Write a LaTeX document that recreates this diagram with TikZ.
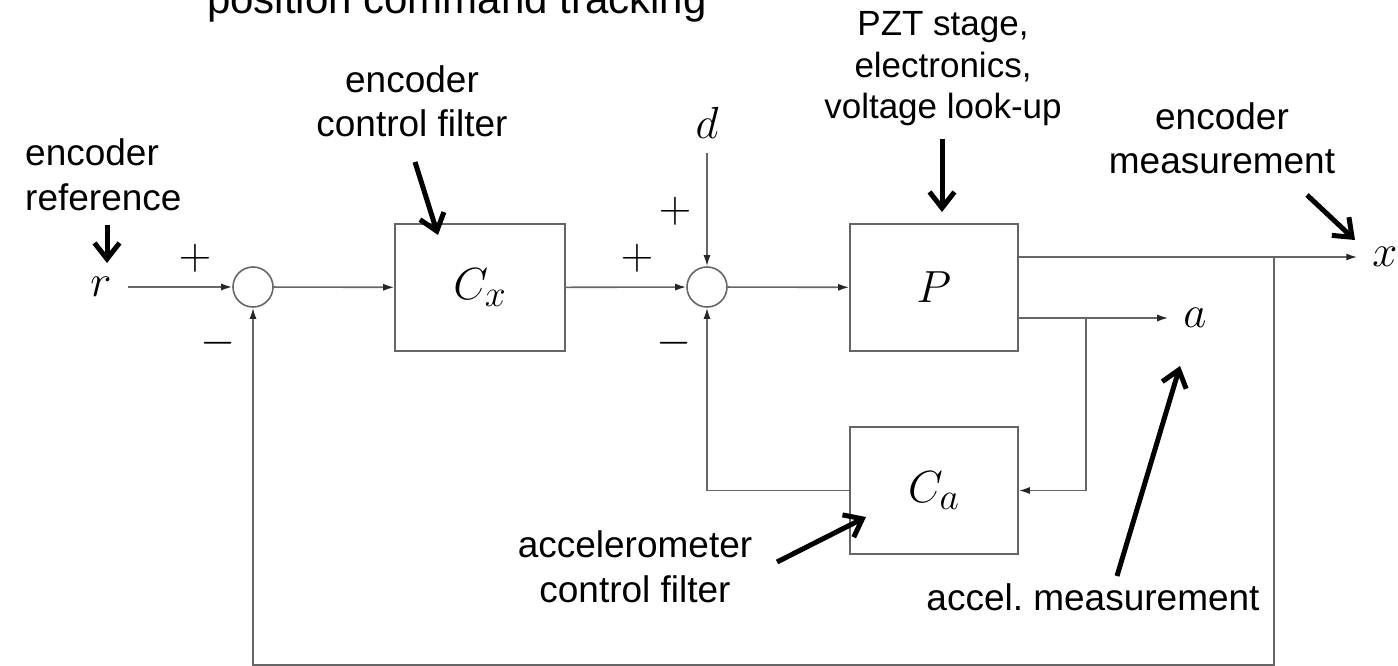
\documentclass[tikz,border=0pt]{standalone}
\usepackage{graphicx}
\usepackage{fontspec}
\setmainfont{Liberation Sans}
\usetikzlibrary{arrows.meta}
\newcommand{\mbig}[1]{\scalebox{1.809}{\fontsize{24.88}{30}\selectfont$#1$}}
\begin{document}
\begin{tikzpicture}[x=1pt,y=-1pt,
  wire/.style={draw=black!60, line width=1.6pt},
  sig/.style={wire, -{Latex[length=11pt,width=7pt,color=black!85]}},
  blk/.style={draw=black!60, line width=1.6pt, minimum height=127pt, inner sep=0pt},
  sumnode/.style={circle, draw=black!60, line width=1.6pt, minimum size=40pt, inner sep=0pt},
  mth/.style={inner sep=0pt},
  lbl/.style={font=\fontsize{37}{44.5}\selectfont, align=center, inner sep=0pt, anchor=base},
  note/.style={line width=5pt, -{Straight Barb[length=16pt,width=25pt]}},
]
\useasboundingbox (0,0) rectangle (1398,666);
\clip (0,0) rectangle (1398,666);

% blocks and summing junctions
\node[sumnode] (s1) at (253,287) {};
\node[sumnode] (s2) at (707,287) {};
\node[blk, minimum width=170pt] (Cx) at (480,287.5) {\mbig{C_x}};
\node[blk, minimum width=168pt] (P) at (934,287.5) {\mbig{P}};
\node[blk, minimum width=168pt] (Ca) at (934,490.5) {\mbig{C_a}};

% signals
\node[mth] (r) at (101,287) {\mbig{r}};
\node[mth] (d) at (707,123) {\mbig{d}};
\node[mth] (x) at (1385,257) {\mbig{x}};
\node[mth] (a) at (1195,318) {\mbig{a}};

% signs
\node[mth] (p1) at (195,258) {\mbig{+}};
\node[mth] (m1) at (218,343) {\mbig{-}};
\node[mth] (p2) at (637,258) {\mbig{+}};
\node[mth] (p3) at (675,211) {\mbig{+}};
\node[mth] (m2) at (674,343) {\mbig{-}};

% connectors
\coordinate (ba) at (1086,318);
\coordinate (bx) at (1274,257);
\coordinate (bot) at (1274,665);
\draw[sig, shorten <=16pt] (r.east) -- (s1.west);
\draw[sig] (s1) -- (Cx);
\draw[sig] (Cx) -- (s2);
\draw[sig] (s2) -- (P);
\draw[sig, shorten <=14pt] (d.south) -- (s2.north);
\draw[sig, shorten >=15pt] (P.east |- x) -- (x.west);
\draw[sig, shorten >=15pt] (P.east |- a) -- (a.west);
\draw[sig] (ba) |- (Ca.east);
\draw[sig] (Ca.west) -| (s2.south);
\draw[sig] (bx) -- (bot) -| (s1.south);

% annotation labels (anchor = baseline of the last line)
\node[lbl, font=\fontsize{42}{50}\selectfont] (title) at (457,14) {position command tracking};
\node[lbl, anchor=base west, align=left] (lref) at (25,210) {encoder\\reference};
\node[lbl] (lcf) at (412,137) {encoder\\control filter};
\node[lbl, font=\fontsize{35}{41.5}\selectfont] (lpzt) at (943,119) {PZT stage,\\electronics,\\voltage look-up};
\node[lbl] (lem) at (1222,174) {encoder\\measurement};
\node[lbl] (lacc) at (635,602) {accelerometer\\control filter};
\node[lbl] (lam) at (1093,610) {accel.\ measurement};

% annotation arrows
\coordinate (n1s) at (107,225);  \coordinate (n1e) at (107,263);
\coordinate (n2s) at (415,162);  \coordinate (n2e) at (438,235);
\coordinate (n3s) at (942,139);  \coordinate (n3e) at (942,212);
\coordinate (n4s) at (1307,195); \coordinate (n4e) at (1355,240);
\coordinate (n5s) at (1117,576); \coordinate (n5e) at (1180,366);
\coordinate (n6s) at (777,562);  \coordinate (n6e) at (866,517);
\draw[note] (n1s) -- (n1e);
\draw[note] (n2s) -- (n2e);
\draw[note] (n3s) -- (n3e);
\draw[note] (n4s) -- (n4e);
\draw[note] (n5s) -- (n5e);
\draw[note] (n6s) -- (n6e);
\end{tikzpicture}
\end{document}
